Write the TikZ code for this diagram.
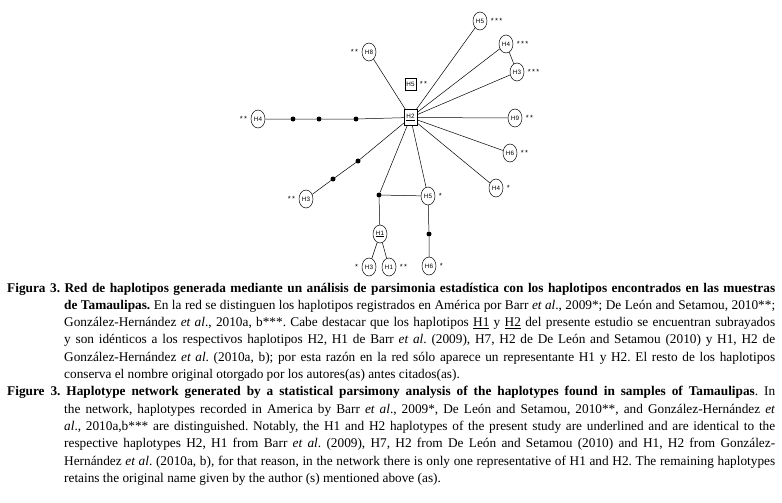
\documentclass[tikz,border=0pt]{standalone}
\usepackage{fontspec}
\setmainfont{Liberation Serif}
\newfontfamily\labfont{Liberation Sans}
\usetikzlibrary{shapes.geometric}
\newcommand{\onest}{\raisebox{-1.6pt}{*}}
\newcommand{\twost}{\onest\hspace{1.3pt}\onest}
\newcommand{\threest}{\onest\hspace{1.3pt}\onest\hspace{1.3pt}\onest}
\begin{document}
\begin{tikzpicture}[x=1pt,y=-1pt,
  labf/.style={font=\labfont\fontsize{6.3}{7}\selectfont},
  hap/.style={ellipse, draw, line width=0.5pt, minimum width=14pt, minimum height=18pt, inner sep=0pt, labf},
  hapbox/.style={rectangle, draw, line width=0.5pt, minimum width=13pt, minimum height=16pt, inner sep=0pt, labf},
  smallbox/.style={rectangle, draw, line width=0.5pt, minimum width=11pt, minimum height=12pt, inner sep=0pt, labf},
  mv/.style={circle, fill, inner sep=0pt, minimum size=5pt},
  lk/.style={line width=0.5pt},
  st/.style={font=\labfont\fontsize{7.5}{8}\selectfont, inner sep=0pt, label distance=3.5pt}
]
\useasboundingbox (0,0) rectangle (782,503);
% haplotypes
\node[hapbox] (H2) at (410.5,117.5) {\underline{H2}};
\node[smallbox, label={[st]east:\twost}] (H5b) at (410.5,84) {H5};
\node[hap, label={[st]east:\threest}] (H5t) at (480,21) {H5};
\node[hap, label={[st]east:\threest}] (H4t) at (506,44) {H4};
\node[hap, label={[st]east:\threest}] (H3t) at (517,72) {H3};
\node[hap, label={[st]west:\twost}] (H8) at (369,52) {H8};
\node[hap, label={[st]west:\twost}] (H4l) at (258,119) {H4};
\node[hap, label={[st]east:\twost}] (H9) at (515,118) {H9};
\node[hap, label={[st]east:\twost}] (H6r) at (510,153) {H6};
\node[hap, label={[st]east:\onest}] (H4r) at (496,188) {H4};
\node[hap, label={[st]west:\twost}] (H3l) at (306,199) {H3};
\node[hap, label={[st]east:\onest}] (H5m) at (428,196) {H5};
\node[hap] (H1) at (380,234) {\underline{H1}};
\node[hap, label={[st]west:\onest}] (H3b) at (369,267) {H3};
\node[hap, label={[st]east:\twost}] (H1b) at (389,267) {H1};
\node[hap, label={[st]east:\onest}] (H6b) at (429,266) {H6};
% median vectors
\node[mv] (d1) at (293,119) {};
\node[mv] (d2) at (319,119) {};
\node[mv] (d3) at (356,119) {};
\node[mv] (d4) at (358,161) {};
\node[mv] (d5) at (333,179) {};
\node[mv] (j) at (379,195) {};
\node[mv] (d6) at (429,234) {};
% links
\draw[lk] (H2) -- (H8);
\draw[lk] (H2) -- (H5t);
\draw[lk] (H2) -- (H4t);
\draw[lk] (H4t) -- (H3t);
\draw[lk] (H2) -- (H3t);
\draw[lk] (H2) -- (H9);
\draw[lk] (H2) -- (H6r);
\draw[lk] (H2) -- (H4r);
\draw[lk] (H2) -- (d3) -- (d2) -- (d1) -- (H4l);
\draw[lk] (H2) -- (d4) -- (d5) -- (H3l);
\draw[lk] (H2) -- (j);
\draw[lk] (H2) -- (H5m);
\draw[lk] (j) -- (H5m);
\draw[lk] (j) -- (H1);
\draw[lk] (H1) -- (H3b);
\draw[lk] (H1) -- (H1b);
\draw[lk] (H5m) -- (d6) -- (H6b);
% caption
\node[anchor=base west, inner sep=0pt] (cap) at (7,292) {\parbox[t]{768pt}{%
\fontsize{13.3}{17.3}\selectfont\frenchspacing\hyphenpenalty=10000\tolerance=9999\emergencystretch=0pt
\noindent\hangindent=57pt\hangafter=1
\textbf{Figura 3. Red de haplotipos generada mediante un análisis de parsimonia estadística con los haplotipos encontrados en las muestras}\linebreak
\textbf{de Tamaulipas.} En la red se distinguen los haplotipos registrados en América por Barr \textit{et al}., 2009*; De León and Setamou, 2010**;\linebreak
González-Hernández \textit{et al}., 2010a, b***. Cabe destacar que los haplotipos \underline{H1} y \underline{H2} del presente estudio se encuentran subrayados\linebreak
y son idénticos a los respectivos haplotipos H2, H1 de Barr \textit{et al}. (2009), H7, H2 de De León and Setamou (2010) y H1, H2 de\linebreak
González-Hernández \textit{et al}. (2010a, b); por esta razón en la red sólo aparece un representante H1 y H2. El resto de los haplotipos\linebreak
conserva el nombre original otorgado por los autores(as) antes citados(as).\par
\noindent\hangindent=57pt\hangafter=1
\textbf{Figure 3. Haplotype network generated by a statistical parsimony analysis of the haplotypes found in samples of Tamaulipas}. In\linebreak
the network, haplotypes recorded in America by Barr \textit{et al}., 2009*, De León and Setamou, 2010**, and González-Hernández \textit{et}\linebreak
\textit{al}., 2010a,b*** are distinguished. Notably, the H1 and H2 haplotypes of the present study are underlined and are identical to the\linebreak
respective haplotypes H2, H1 from Barr \textit{et al}. (2009), H7, H2 from De León and Setamou (2010) and H1, H2 from González-\linebreak
Hernández \textit{et al}. (2010a, b), for that reason, in the network there is only one representative of H1 and H2. The remaining haplotypes\linebreak
retains the original name given by the author (s) mentioned above (as).\par}};
\end{tikzpicture}
\end{document}
